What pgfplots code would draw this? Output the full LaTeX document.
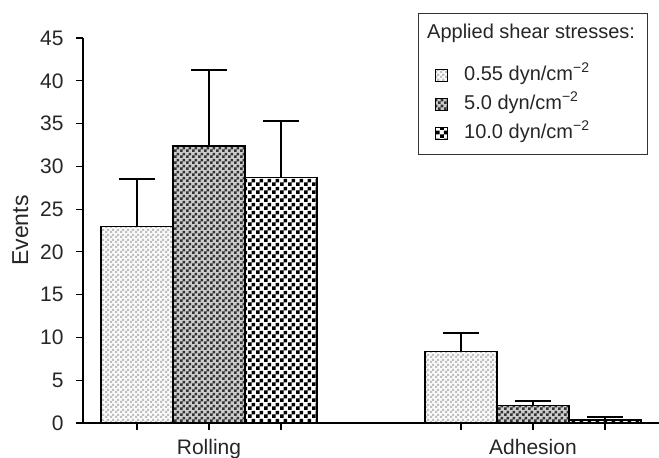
\documentclass[border=0pt]{standalone}
\usepackage{fontspec}
\setmainfont{Liberation Sans}
\usepackage{pgfplots}
\pgfplotsset{compat=1.18}
\usetikzlibrary{patterns}

% checkerboards of three sizes
\pgfdeclarepatternformonly{checkA}{\pgfqpoint{0pt}{0pt}}{\pgfqpoint{5pt}{5pt}}{\pgfqpoint{5pt}{5pt}}{%
  \pgfpathrectangle{\pgfqpoint{0pt}{0pt}}{\pgfqpoint{2.5pt}{2.5pt}}%
  \pgfpathrectangle{\pgfqpoint{2.5pt}{2.5pt}}{\pgfqpoint{2.5pt}{2.5pt}}%
  \pgfusepath{fill}}
\pgfdeclarepatternformonly{checkB}{\pgfqpoint{0pt}{0pt}}{\pgfqpoint{6pt}{6pt}}{\pgfqpoint{6pt}{6pt}}{%
  \pgfpathrectangle{\pgfqpoint{0pt}{0pt}}{\pgfqpoint{3pt}{3pt}}%
  \pgfpathrectangle{\pgfqpoint{3pt}{3pt}}{\pgfqpoint{3pt}{3pt}}%
  \pgfusepath{fill}}
\pgfdeclarepatternformonly{checkC}{\pgfqpoint{0pt}{0pt}}{\pgfqpoint{8pt}{8pt}}{\pgfqpoint{8pt}{8pt}}{%
  \pgfpathrectangle{\pgfqpoint{0pt}{0pt}}{\pgfqpoint{4pt}{4pt}}%
  \pgfpathrectangle{\pgfqpoint{4pt}{4pt}}{\pgfqpoint{4pt}{4pt}}%
  \pgfusepath{fill}}

\pgfplotsset{
  errup/.style={
    error bars/.cd, y dir=plus, y explicit,
    error bar style={line width=1.2pt, black},
    error mark options={rotate=90, mark size=18pt, line width=2pt, black}},
}

\begin{document}
\begin{tikzpicture}
\begin{axis}[
  at={(0,0)}, anchor=south west,
  scale only axis, width=576pt, height=385pt,
  xmin=0.25, xmax=8.25, ymin=0, ymax=45,
  clip=false,
  axis lines=left, axis line style={-, line width=1.3pt},
  ytick={0,5,...,45},
  xtick={1,2,3,5.5,6.5,7.5},
  xticklabels={,Rolling,,,Adhesion,},
  tick align=outside, major tick length=7pt,
  tick style={line width=1.2pt, black},
  tick label style={font=\fontsize{21}{24}\selectfont, text=black!85},
  yticklabel style={xshift=-9pt},
  xticklabel style={yshift=-6pt},
  /pgf/number format/assume math mode=true,
  ylabel=Events,
  ylabel style={at={(axis description cs:-0.109,0.5)}, anchor=center,
    font=\fontsize{23}{26}\selectfont, text=black!85},
  ybar, bar width=1, bar shift=0pt,
  every axis plot/.append style={draw=black, line width=1.2pt},
  legend style={at={(rel axis cs:0.6111,0.9286)}, anchor=north west,
    draw=none, fill=none, inner sep=0pt, row sep=10pt, column sep=16pt,
    nodes={inner sep=0pt, text height=14.5pt, text depth=4.5pt},
    font=\fontsize{20}{24}\selectfont, text=black!85},
  legend cell align=left,
  legend image code/.code={\draw[#1, line width=1pt] (0pt,-6pt) rectangle (12pt,6pt);},
]
\addplot[fill=gray!4, postaction={pattern=checkA, pattern color=gray!50}, errup]
  coordinates {(1,23.0) +- (0,5.5) (5.5,8.38) +- (0,2.17)};
\addlegendentry{0.55 dyn/cm\textsuperscript{−2}}

\addplot[fill=gray!40, postaction={pattern=checkB, pattern color=black!80}, errup]
  coordinates {(2,32.37) +- (0,8.89) (6.5,2.07) +- (0,0.54)};
\addlegendentry{5.0 dyn/cm\textsuperscript{−2}}

\addplot[fill=white, postaction={pattern=checkC, pattern color=black}, errup]
  coordinates {(3,28.67) +- (0,6.66) (7.5,0.35) +- (0,0.39)};
\addlegendentry{10.0 dyn/cm\textsuperscript{−2}}

% legend frame and heading
\draw[black!80, line width=1pt] (rel axis cs:0.5833,1.0649) rectangle (rel axis cs:0.9809,0.6987);
\node[anchor=base west, inner sep=0pt, font=\fontsize{20}{24}\selectfont, text=black!85]
  at (rel axis cs:0.5972,1.0) {Applied shear stresses:};
\end{axis}
\pgfresetboundingbox
\path[use as bounding box] (-83pt,-35pt) rectangle (576pt,423pt);
\end{tikzpicture}
\end{document}
